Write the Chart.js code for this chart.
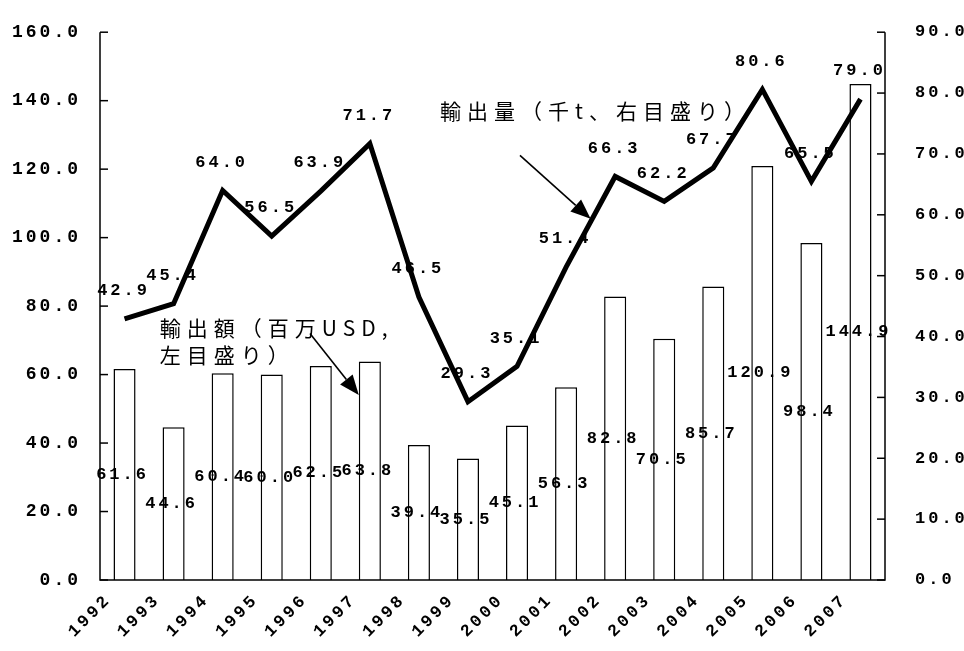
<!DOCTYPE html>
<html>
<head>
<meta charset="utf-8">
<script src="https://cdn.jsdelivr.net/npm/chart.js@4.4.0/dist/chart.umd.min.js"></script>
<style>
html, body { margin: 0; padding: 0; background: #fff; }
#wrap { width: 964px; height: 651px; }
</style>
</head>
<body>
<div id="wrap"><canvas id="chart"></canvas></div>
<script>
// data
const years = ['1992','1993','1994','1995','1996','1997','1998','1999','2000','2001','2002','2003','2004','2005','2006','2007'];
const exportValue = [61.6, 44.6, 60.4, 60.0, 62.5, 63.8, 39.4, 35.5, 45.1, 56.3, 82.8, 70.5, 85.7, 120.9, 98.4, 144.9];   // 百万USD, left
const exportVolume = [42.9, 45.4, 64.0, 56.5, 63.9, 71.7, 46.5, 29.3, 35.1, 51.4, 66.3, 62.2, 67.7, 80.6, 65.5, 79.0]; // 千t, right
const leftTicks = [0, 20, 40, 60, 80, 100, 120, 140, 160];
const rightTicks = [0, 10, 20, 30, 40, 50, 60, 70, 80, 90];

const NUM_FONT = "'Liberation Mono', 'DejaVu Sans Mono', monospace";
const JP_FONT = "'Noto Sans CJK JP', sans-serif";

function drawArrow(ctx, x1, y1, x2, y2) {
    let ang = Math.atan2(y2 - y1, x2 - x1);
    let len = 20, half = 8;
    let bx = x2 - len * Math.cos(ang), by = y2 - len * Math.sin(ang);
    ctx.beginPath();
    ctx.moveTo(x1, y1);
    ctx.lineTo(bx, by);
    ctx.lineWidth = 1.6;
    ctx.stroke();
    ctx.beginPath();
    ctx.moveTo(x2, y2);
    ctx.lineTo(bx + half * Math.sin(ang), by - half * Math.cos(ang));
    ctx.lineTo(bx - half * Math.sin(ang), by + half * Math.cos(ang));
    ctx.closePath();
    ctx.fill();
}

const decorPlugin = {
    id: 'decor',
    beforeDraw(chart) {
        chart.ctx.letterSpacing = '3px';
    },
    afterDraw(chart) {
        let ctx = chart.ctx;
        let area = chart.chartArea;
        let x = chart.scales.x, yL = chart.scales.yL, yR = chart.scales.yR;
        ctx.save();
        ctx.strokeStyle = '#000';
        ctx.fillStyle = '#000';

        // axis lines and inward ticks
        ctx.lineWidth = 1.5;
        ctx.beginPath();
        ctx.moveTo(area.left, area.top);
        ctx.lineTo(area.left, area.bottom);
        ctx.lineTo(area.right, area.bottom);
        ctx.lineTo(area.right, area.top);
        ctx.stroke();
        leftTicks.forEach(v => {
            let py = yL.getPixelForValue(v);
            ctx.beginPath(); ctx.moveTo(area.left, py); ctx.lineTo(area.left + 8, py); ctx.stroke();
        });
        rightTicks.forEach(v => {
            let py = yR.getPixelForValue(v);
            ctx.beginPath(); ctx.moveTo(area.right - 8, py); ctx.lineTo(area.right, py); ctx.stroke();
        });

        // data labels
        ctx.letterSpacing = '3px';
        ctx.font = 'bold 17px ' + NUM_FONT;
        ctx.textAlign = 'center';
        ctx.textBaseline = 'middle';
        chart.getDatasetMeta(0).data.forEach((bar, i) => {
            ctx.fillText(exportValue[i].toFixed(1), bar.x - 2, (bar.y + bar.base) / 2);
        });
        chart.getDatasetMeta(1).data.forEach((pt, i) => {
            ctx.fillText(exportVolume[i].toFixed(1), pt.x - 1, pt.y - 28);
        });

        // annotations
        ctx.letterSpacing = '6px';
        ctx.font = '21px ' + JP_FONT;
        ctx.textAlign = 'left';
        let catW = x.getPixelForValue(1) - x.getPixelForValue(0);
        let px = idx => x.getPixelForValue(0) + idx * catW;

        ctx.fillText('輸出量（千t、右目盛り）', px(6.43), yL.getPixelForValue(137));
        let pts = chart.getDatasetMeta(1).data;
        drawArrow(ctx, px(8.06), yL.getPixelForValue(124),
            (pts[9].x + pts[10].x) / 2, (pts[9].y + pts[10].y) / 2 - 3);

        let ly = yL.getPixelForValue(73.5);
        ctx.fillText('輸出額（百万USD,', px(0.72), ly);
        ctx.fillText('左目盛り）', px(0.72), ly + 27);
        let bar = chart.getDatasetMeta(0).data[5];
        drawArrow(ctx, px(3.78), yL.getPixelForValue(72), bar.x - bar.width / 2, yL.getPixelForValue(54));

        ctx.restore();
    }
};

new Chart(document.getElementById('chart').getContext('2d'), {
    type: 'bar',
    data: {
        labels: years,
        datasets: [{
            type: 'bar',
            label: '輸出額（百万USD）',
            data: exportValue,
            yAxisID: 'yL',
            backgroundColor: '#fff',
            borderColor: '#000',
            borderWidth: 1.5,
            barPercentage: 0.45,
            categoryPercentage: 1.0,
            order: 2
        }, {
            type: 'line',
            label: '輸出量（千t）',
            data: exportVolume,
            yAxisID: 'yR',
            borderColor: '#000',
            borderWidth: 5,
            pointRadius: 0,
            tension: 0,
            fill: false,
            order: 1
        }]
    },
    options: {
        responsive: true,
        maintainAspectRatio: false,
        animation: false,
        layout: { padding: { top: 25, left: 0, right: 0, bottom: 0 } },
        plugins: {
            legend: { display: false },
            tooltip: { enabled: false }
        },
        scales: {
            x: {
                offset: true,
                grid: { display: false },
                border: { display: false },
                ticks: {
                    color: '#000',
                    font: { family: NUM_FONT, size: 17, weight: 'bold' },
                    minRotation: 45,
                    maxRotation: 45,
                    labelOffset: -16,
                    padding: 2
                },
                afterFit: s => { s.height = 71; }
            },
            yL: {
                position: 'left',
                min: 0,
                max: 160,
                afterBuildTicks: s => { s.ticks = leftTicks.map(v => ({ value: v })); },
                grid: { display: false },
                border: { display: false },
                ticks: {
                    color: '#000',
                    font: { family: NUM_FONT, size: 18, weight: 'bold' },
                    padding: 11,
                    callback: v => v.toFixed(1)
                },
                afterFit: s => { s.width = 100; }
            },
            yR: {
                position: 'right',
                min: 0,
                max: 90,
                afterBuildTicks: s => { s.ticks = rightTicks.map(v => ({ value: v })); },
                grid: { display: false },
                border: { display: false },
                ticks: {
                    color: '#000',
                    font: { family: NUM_FONT, size: 17, weight: 'bold' },
                    padding: 22,
                    callback: v => v.toFixed(1)
                },
                afterFit: s => { s.width = 79; }
            }
        }
    },
    plugins: [decorPlugin]
});
</script>
</body>
</html>
